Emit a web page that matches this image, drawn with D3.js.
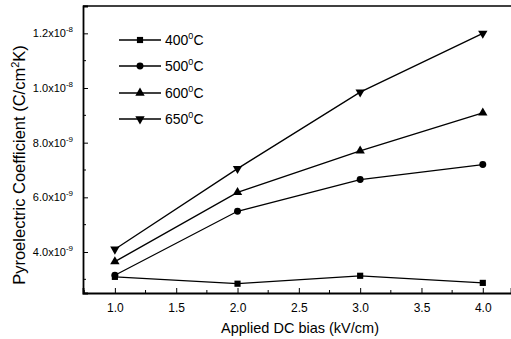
<!DOCTYPE html>
<html><head><meta charset="utf-8">
<script src="https://cdn.jsdelivr.net/npm/d3@7"></script>
<style>body{margin:0;background:#fff}svg{display:block}</style>
</head><body>
<script>
const biases = [1.0, 2.0, 3.0, 4.0];
const s400 = [3.09e-9, 2.84e-9, 3.13e-9, 2.87e-9];
const s500 = [3.15e-9, 5.49e-9, 6.65e-9, 7.2e-9];
const s600 = [3.65e-9, 6.18e-9, 7.7e-9, 9.09e-9];
const s650 = [4.1e-9, 7.05e-9, 9.85e-9, 12.0e-9];
const seriesNames = ["400", "500", "600", "650"];
const xTicks = [1.0, 1.5, 2.0, 2.5, 3.0, 3.5, 4.0];
const xTickLabels = ["1.0", "1.5", "2.0", "2.5", "3.0", "3.5", "4.0"];
const yTicks = [4e-9, 6e-9, 8e-9, 10e-9, 12e-9];
const yTickMant = ["4.0x10", "6.0x10", "8.0x10", "1.0x10", "1.2x10"];
const yTickExp = ["-9", "-9", "-9", "-8", "-8"];

const W = 511, H = 339;
const m = {l: 83, r: 0, t: 6, b: 46};
const svg = d3.select("body").append("svg").attr("width", W).attr("height", H);
const x = d3.scaleLinear().domain([0.74, 4.23]).range([m.l, W - m.r]);
const y = d3.scaleLinear().domain([2.5e-9, 13e-9]).range([H - m.b, m.t]);
const font = "Arial, 'Liberation Sans', sans-serif";

// frame
svg.append("line").attr("x1", m.l).attr("x2", W).attr("y1", m.t).attr("y2", m.t).attr("stroke", "#000").attr("stroke-width", 1.5);

// axes
const xAxis = d3.axisBottom(x).tickValues(xTicks).tickFormat((d, i) => xTickLabels[i]).tickSize(-5).tickPadding(10);
const gx = svg.append("g").attr("transform", `translate(0,${H - m.b})`).call(xAxis);
gx.select(".domain").attr("stroke-width", 1.8);
gx.selectAll("text").attr("font-family", font).attr("font-size", 12).attr("fill", "#000");
const xMinor = d3.range(0.75, 4.23, 0.25).filter(v => !xTicks.some(t => Math.abs(t - v) < 1e-6));
gx.selectAll(".minor").data(xMinor).enter().append("line")
  .attr("x1", d => x(d)).attr("x2", d => x(d)).attr("y1", 0).attr("y2", -3).attr("stroke", "#000");

const yAxis = d3.axisLeft(y).tickValues(yTicks).tickFormat("").tickSize(-5);
const gy = svg.append("g").attr("transform", `translate(${m.l},0)`).call(yAxis);
gy.select(".domain").attr("stroke-width", 1.8);
const yMinor = [3e-9, 5e-9, 7e-9, 9e-9, 11e-9];
gy.selectAll(".minor").data(yMinor).enter().append("line")
  .attr("x1", 0).attr("x2", 3).attr("y1", d => y(d)).attr("y2", d => y(d)).attr("stroke", "#000");
const yl = gy.selectAll(".lbl").data(yTicks).enter().append("text")
  .attr("x", -10).attr("y", d => y(d) + 4).attr("text-anchor", "end")
  .attr("font-family", font).attr("font-size", 11).attr("fill", "#000");
yl.append("tspan").text((d, i) => yTickMant[i]);
yl.append("tspan").attr("dy", -5).attr("font-size", 8).text((d, i) => yTickExp[i]);

// axis titles
svg.append("text").attr("x", 300).attr("y", 333).attr("text-anchor", "middle")
  .attr("font-family", font).attr("font-size", 14.5).text("Applied DC bias (kV/cm)");
const yt = svg.append("text").attr("transform", "translate(25,165) rotate(-90)").attr("text-anchor", "middle")
  .attr("font-family", font).attr("font-size", 16.5);
yt.append("tspan").text("Pyroelectric Coefficient (C/cm");
yt.append("tspan").attr("dy", -6).attr("font-size", 11).text("2");
yt.append("tspan").attr("dy", 6).text("K)");

// series
const allSeries = [s400, s500, s600, s650];
const sym = [d3.symbolSquare, d3.symbolCircle, d3.symbolTriangle, d3.symbolTriangle];
const symSize = [38, 38, 38, 38];
const rot = [0, 0, 0, 180];
const line = d3.line().x(d => x(d[0])).y(d => y(d[1]));
allSeries.forEach((s, k) => {
  const pts = biases.map((b, i) => [b, s[i]]);
  svg.append("path").attr("d", line(pts)).attr("fill", "none").attr("stroke", "#000").attr("stroke-width", 1.3);
  svg.selectAll(".m" + k).data(pts).enter().append("path")
    .attr("d", d3.symbol().type(sym[k]).size(symSize[k]))
    .attr("transform", d => `translate(${x(d[0])},${y(d[1])}) rotate(${rot[k]})`)
    .attr("fill", "#000");
});

// legend
const ly = [40, 66, 93, 119];
seriesNames.forEach((n, k) => {
  const g = svg.append("g").attr("transform", `translate(0,${ly[k]})`);
  g.append("line").attr("x1", 119).attr("x2", 161).attr("y1", 0).attr("y2", 0).attr("stroke", "#000").attr("stroke-width", 1.3);
  g.append("path").attr("d", d3.symbol().type(sym[k]).size(symSize[k]))
    .attr("transform", `translate(140,0) rotate(${rot[k]})`).attr("fill", "#000");
  const t = g.append("text").attr("x", 165).attr("y", 5).attr("font-family", font).attr("font-size", 14);
  t.append("tspan").text(n);
  t.append("tspan").attr("dy", -6).attr("font-size", 9).text("0");
  t.append("tspan").attr("dy", 6).text("C");
});
</script>
</body></html>
